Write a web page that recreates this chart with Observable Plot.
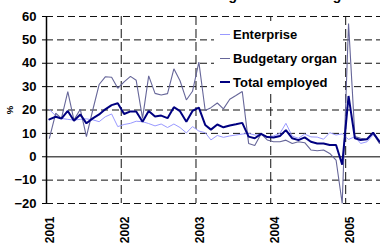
<!DOCTYPE html>
<html>
<head>
<meta charset="utf-8">
<script src="https://cdn.jsdelivr.net/npm/d3@7"></script>
<script src="https://cdn.jsdelivr.net/npm/@observablehq/plot@0.6"></script>
<style>
  html, body { margin: 0; padding: 0; background: white; }
  #wrap { position: relative; width: 380px; height: 246px; overflow: hidden; font-family: Arial, "Liberation Sans", sans-serif; }
  #title { position: absolute; left: 208px; top: -12px; font-size: 14px; line-height: 14px; font-weight: bold; white-space: nowrap; color: #000; }
  #ylab { position: absolute; left: 5px; top: 104px; width: 10px; height: 12px; font-size: 9.5px; line-height: 12px; font-weight: bold; text-align: center; transform: rotate(-90deg); }
  #legend { position: absolute; left: 214px; top: 21px; width: 127px; height: 69px; background: white; }
  .lrow { position: absolute; left: 0; height: 13px; font-size: 13px; line-height: 13px; font-weight: bold; white-space: nowrap; color: #000; }
  .lrow .sw { position: absolute; left: 6px; width: 10px; }
  .lrow .tx { position: absolute; left: 19px; top: 0; }
</style>
</head>
<body>
<div id="wrap">
  <div id="chart"></div>
  <div id="title">Wage arrears changes</div>
  <div id="ylab">%</div>
  <div id="legend"></div>
</div>
<script>
// ---- data ----
const startMonth = [2001, 0];       // January 2001
const yearTicks = [2001, 2002, 2003, 2004, 2005];
const yTicks = [-20, -10, 0, 10, 20, 30, 40, 50, 60];
const seriesNames = ["Enterprise", "Budgetary organ", "Total employed"];

const enterprise = [20.2,17.5,16.4,16.0,15.7,16.0,16.2,15.8,15.0,17.1,18.3,12.9,
  13.8,14.3,15.2,15.0,14.2,13.2,14.0,12.5,14.0,12.5,10.2,12.9,
  11.0,10.3,7.2,9.1,8.3,8.9,9.3,9.7,10.0,9.3,9.6,8.5,
  8.9,10.0,14.3,8.8,7.9,9.7,8.5,8.4,7.5,10.3,9.3,9.8,
  7.4,8.6,5.7,6.4,9.3,7.1];
const budgetary = [7.9,18.6,16.4,27.9,15.7,20.3,8.6,20.0,30.9,34.2,34.0,29.3,
  32.0,34.4,32.7,16.4,34.6,27.1,26.4,27.0,37.6,32.5,24.3,28.0,
  40.5,19.8,21.0,23.0,20.5,24.6,26.2,27.9,5.7,4.8,9.8,7.2,
  6.4,6.4,7.1,5.7,6.4,6.0,2.9,2.6,2.9,1.4,-1.4,-20.0,
  57.0,8.6,7.9,7.5,10.0,5.7];
const total = [16.0,17.1,16.3,19.6,15.4,18.1,14.3,16.4,18.1,20.3,22.1,22.9,
  18.3,19.4,19.4,15.0,19.6,17.2,17.6,16.5,21.2,19.5,15.0,19.6,
  21.0,13.6,11.6,13.8,12.6,13.4,13.9,14.5,8.6,7.9,9.8,8.4,
  8.2,8.9,11.4,7.9,7.1,8.3,6.4,5.7,5.7,5.0,5.0,-3.4,
  26.0,7.9,7.2,7.5,10.3,6.4];

const colors = ["#9999ff", "#666699", "#000080"];
const widths = [1, 1.1, 2];

// ---- build ----
const dates = total.map((_, i) => new Date(Date.UTC(startMonth[0], startMonth[1] + i, 15)));
const rows = (vals, name) => vals.map((v, i) => ({date: dates[i], value: v, series: name}));
const allSeries = [enterprise, budgetary, total];
const yearDates = yearTicks.map(y => new Date(Date.UTC(y, 0, 1)));
const xStart = yearDates[0];
const xEnd = new Date(Date.UTC(2005, 5, 20));

const chart = Plot.plot({
  width: 380,
  height: 246,
  marginLeft: 46,
  marginRight: 0,
  marginTop: 16,
  marginBottom: 43,
  style: {fontFamily: "Arial, 'Liberation Sans', sans-serif", background: "white", color: "#000"},
  x: {type: "utc", domain: [xStart, xEnd]},
  y: {domain: [-20, 60]},
  marks: [
    Plot.ruleY(yTicks.filter(d => d !== 0), {stroke: "#111", strokeWidth: 1, strokeDasharray: "7,4"}),
    Plot.ruleX(yearDates.slice(1), {stroke: "#111", strokeWidth: 1, strokeDasharray: "9,4"}),
    Plot.ruleY([0], {stroke: "#555", strokeWidth: 1.5}),
    Plot.ruleX([xStart], {stroke: "#000", strokeWidth: 1.5}),
    Plot.axisY({ticks: yTicks, tickSize: 4, tickPadding: 6, fontSize: 13, fontWeight: "bold", label: null}),
    Plot.axisX({ticks: yearDates, tickFormat: d3.utcFormat("%Y"), tickRotate: -90, tickSize: 0, tickPadding: 13,
      fontSize: 12, fontWeight: "bold", dx: 4, label: null}),
    ...allSeries.map((vals, k) => Plot.line(rows(vals, seriesNames[k]), {
      x: "date", y: "value", stroke: colors[k], strokeWidth: widths[k], strokeLinejoin: "miter"
    }))
  ]
});
document.getElementById("chart").appendChild(chart);

// legend
const legend = document.getElementById("legend");
const rowTops = [7.3, 31.3, 54.7];
seriesNames.forEach((name, k) => {
  const r = document.createElement("div");
  r.className = "lrow";
  r.style.top = rowTops[k] + "px";
  const sw = document.createElement("div");
  sw.className = "sw";
  sw.style.top = (6.5 - widths[k] / 2) + "px";
  sw.style.height = widths[k] + "px";
  sw.style.background = colors[k];
  const tx = document.createElement("div");
  tx.className = "tx";
  tx.textContent = name;
  r.appendChild(sw); r.appendChild(tx);
  legend.appendChild(r);
});
</script>
</body>
</html>
